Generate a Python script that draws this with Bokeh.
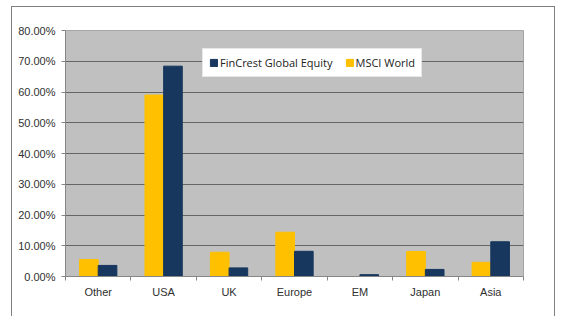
from bokeh.plotting import figure
from bokeh.models import (ColumnDataSource, FixedTicker, NumeralTickFormatter,
                          Range1d, Legend, LegendItem)
from bokeh.embed import file_html
from bokeh.resources import INLINE

categories = ["Other", "USA", "UK", "Europe", "EM", "Japan", "Asia"]
msci_world = [0.055, 0.590, 0.079, 0.144, 0.0, 0.081, 0.046]
fincrest = [0.036, 0.684, 0.028, 0.082, 0.006, 0.023, 0.113]
y_ticks = [0.0, 0.1, 0.2, 0.3, 0.4, 0.5, 0.6, 0.7, 0.8]

n = len(categories)
centers = [i + 0.5 for i in range(n)]
bw = 0.285
src = ColumnDataSource(dict(
    xm=[c - bw / 2 for c in centers],
    xf=[c + bw / 2 for c in centers],
    msci=msci_world, fin=fincrest))

p = figure(width=544, height=310, output_backend="svg",
           toolbar_location=None,
           x_range=Range1d(0, n), y_range=Range1d(0, 0.8),
           min_border_left=53, min_border_right=33, min_border_top=23,
           min_border_bottom=41)
p.border_fill_color = "white"
p.styles = {"border-left": "1px solid #808080", "border-top": "1px solid #808080",
            "border-right": "1px solid #808080",
            "margin-left": "11px", "margin-top": "6px"}
p.outline_line_color = "#a6a6a6"
p.outline_line_width = 1
p.background_fill_color = "#c0c0c0"

rm = p.vbar(x="xm", top="msci", width=bw, bottom=0, source=src,
            fill_color="#FFC000", line_color="#FFC000")
rf = p.vbar(x="xf", top="fin", width=bw, bottom=0, source=src,
            fill_color="#17375E", line_color="#17375E")

p.xgrid.visible = False
p.ygrid.ticker = FixedTicker(ticks=y_ticks)
p.ygrid.grid_line_color = "#666666"
p.ygrid.grid_line_width = 1.2

ya = p.yaxis[0]
ya.ticker = FixedTicker(ticks=y_ticks)
ya.formatter = NumeralTickFormatter(format="0.00%")
ya.axis_line_color = "#868686"
ya.major_tick_line_color = "#868686"
ya.major_tick_out = 4
ya.major_tick_in = 0
ya.minor_tick_line_color = None
ya.major_label_text_font = "Liberation Sans"
ya.major_label_text_font_size = "11px"
ya.major_label_text_color = "#303030"
ya.major_label_standoff = 6

xa = p.xaxis[0]
xa.ticker = FixedTicker(ticks=centers, minor_ticks=list(range(n + 1)))
xa.major_label_overrides = {c: lab for c, lab in zip(centers, categories)}
xa.major_tick_line_color = None
xa.minor_tick_line_color = "#868686"
xa.minor_tick_out = 4
xa.minor_tick_in = 0
xa.axis_line_color = "#868686"
xa.major_label_text_font = "Liberation Sans"
xa.major_label_text_font_size = "11px"
xa.major_label_text_color = "#303030"
xa.major_label_standoff = 3

legend = Legend(items=[LegendItem(label="FinCrest Global Equity", renderers=[rf]),
                       LegendItem(label="MSCI World", renderers=[rm])],
                orientation="horizontal", location=(137, 199))
legend.background_fill_color = "white"
legend.background_fill_alpha = 1
legend.border_line_color = "#d0d0d0"
legend.label_text_font = "Open Sans"
legend.label_text_font_size = "11px"
legend.label_text_color = "#222222"
legend.glyph_width = 9
legend.glyph_height = 9
legend.label_standoff = 2
legend.spacing = 12
legend.padding = 6
legend.margin = 0
p.add_layout(legend, "center")

open("out.html", "w").write(file_html(p, INLINE))
